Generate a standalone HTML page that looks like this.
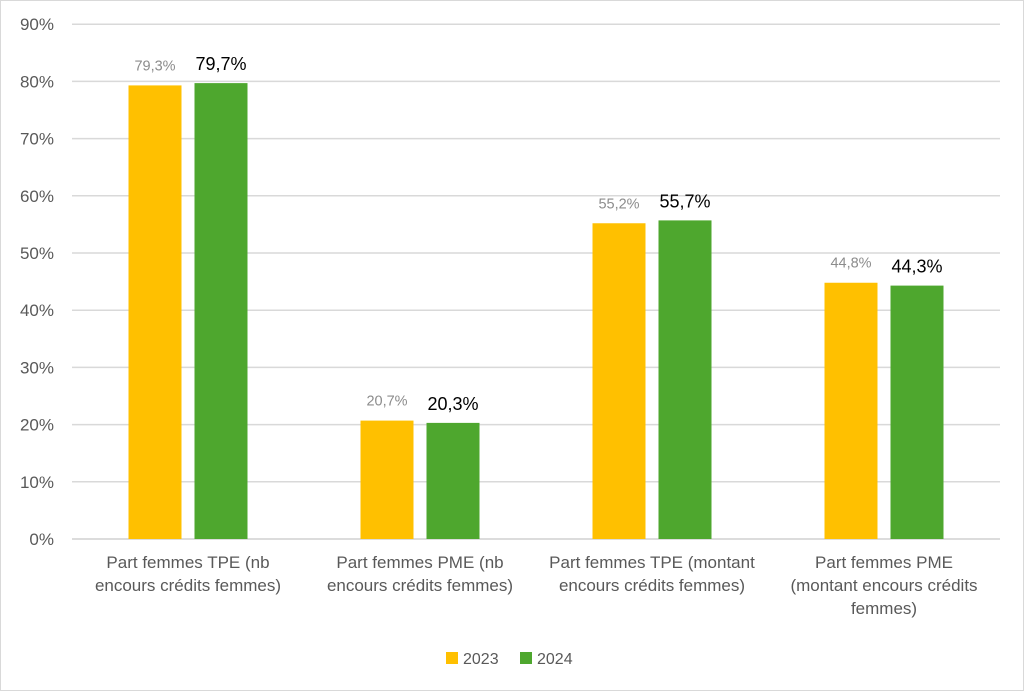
<!DOCTYPE html>
<html><head><meta charset="utf-8"><style>
body{margin:0;background:#fff}
svg{display:block;font-family:"Liberation Sans",Arial,sans-serif}
</style></head><body>
<svg id="chart" width="1024" height="691" viewBox="0 0 1024 691">
<rect x="0.5" y="0.5" width="1023" height="690" fill="#fff" stroke="#d9d9d9"/>
<g id="grid"></g><g id="bars"></g><g id="labels"></g><g id="xlabels"></g>
<g>
<rect x="446" y="652" width="12" height="12" fill="#FFC000"/>
<text x="463" y="664" font-size="16" fill="#595959">2023</text>
<rect x="520" y="652" width="12" height="12" fill="#4EA72E"/>
<text x="537" y="664" font-size="16" fill="#595959">2024</text>
</g>
</svg>
<script>
const categories=[["Part femmes TPE (nb","encours crédits femmes)"],["Part femmes PME  (nb","encours crédits femmes)"],["Part femmes TPE (montant","encours crédits femmes)"],["Part femmes PME","(montant encours crédits","femmes)"]];
const values2023=[79.3,20.7,55.2,44.8];
const values2024=[79.7,20.3,55.7,44.3];
const labels2023=["79,3%","20,7%","55,2%","44,8%"];
const labels2024=["79,7%","20,3%","55,7%","44,3%"];
const yTicks=[0,10,20,30,40,50,60,70,80,90];
const NS="http://www.w3.org/2000/svg";
const x0=72,x1=1000,y0=539,pxPer=5.72;
const y=v=>y0-v*pxPer;
const cw=(x1-x0)/categories.length;
function el(t,a,p,txt){const e=document.createElementNS(NS,t);for(const k in a)e.setAttribute(k,a[k]);if(txt!=null)e.textContent=txt;document.getElementById(p).appendChild(e);return e;}
yTicks.forEach(t=>{
 const l=el('line',{x1:x0,x2:x1,y1:y(t),y2:y(t),stroke:t===0?'#d0d0d0':'#d9d9d9','stroke-width':1.5},'grid');
 
 
 const tx=el('text',{x:54,y:y(t)+6,'font-size':17,fill:'#595959','text-anchor':'end'},'grid',t+'%');
 
 
});
const bw=53,gap=13;
categories.forEach((c,i)=>{
 const cx=x0+cw*(i+0.5);
 const bx1=cx-gap/2-bw,bx2=cx+gap/2;
 const r1=el('rect',{x:bx1,y:y(values2023[i]),width:bw,height:values2023[i]*pxPer,fill:'#FFC000'},'bars');
 
 
 const r2=el('rect',{x:bx2,y:y(values2024[i]),width:bw,height:values2024[i]*pxPer,fill:'#4EA72E'},'bars');
 
 
 const t1=el('text',{x:bx1+bw/2,y:y(values2023[i])-15,'font-size':14.5,fill:'#8c8c8c','text-anchor':'middle'},'labels',labels2023[i]);
 
 
 const t2=el('text',{x:bx2+bw/2,y:y(values2024[i])-13,'font-size':18,fill:'#000','text-anchor':'middle'},'labels',labels2024[i]);
 
 
 c.forEach((line,j)=>{
  const xl=el('text',{x:cx,y:568+j*23,'font-size':17,fill:'#595959','text-anchor':'middle'},'xlabels',line);
  
  
 });
});
</script>
</body></html>
